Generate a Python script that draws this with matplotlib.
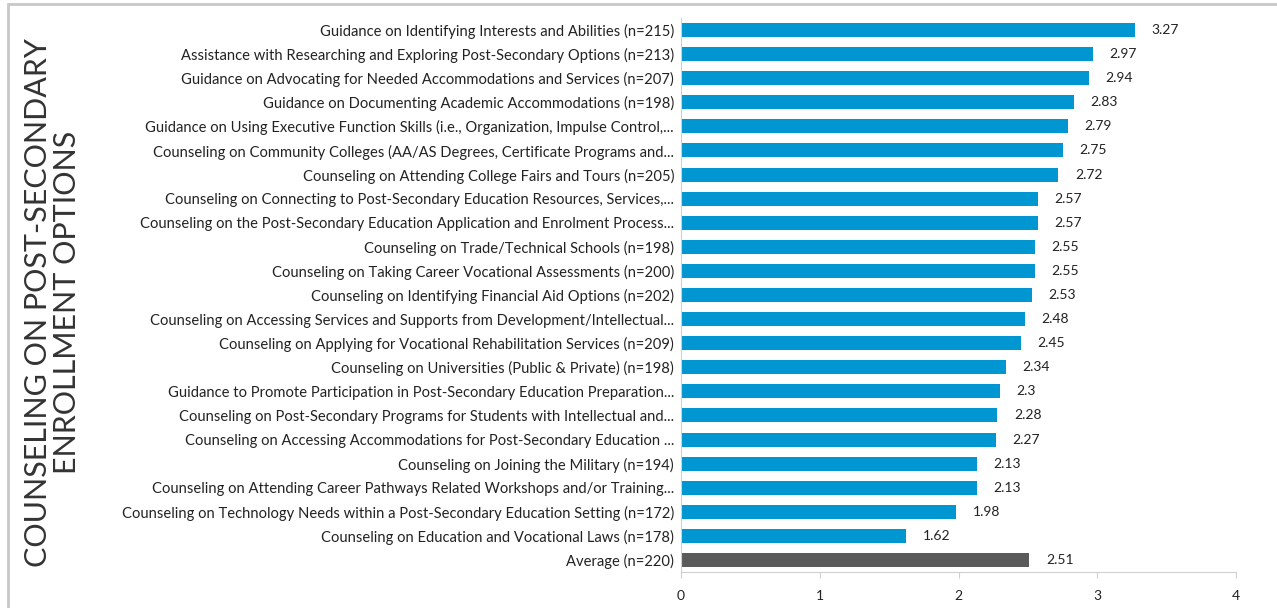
import matplotlib.pyplot as plt
from matplotlib.patches import Rectangle

plt.rcParams['font.family'] = ['Lato', 'DejaVu Sans']

labels = [
    "Guidance on Identifying Interests and Abilities (n=215)",
    "Assistance with Researching and Exploring Post-Secondary Options (n=213)",
    "Guidance on Advocating for Needed Accommodations and Services (n=207)",
    "Guidance on Documenting Academic Accommodations (n=198)",
    "Guidance on Using Executive Function Skills (i.e., Organization, Impulse Control,...",
    "Counseling on Community Colleges (AA/AS Degrees, Certificate Programs and...",
    "Counseling on Attending College Fairs and Tours (n=205)",
    "Counseling on Connecting to Post-Secondary Education Resources, Services,...",
    "Counseling on the Post-Secondary Education Application and Enrolment Process...",
    "Counseling on Trade/Technical Schools (n=198)",
    "Counseling on Taking Career Vocational Assessments (n=200)",
    "Counseling on Identifying Financial Aid Options (n=202)",
    "Counseling on Accessing Services and Supports from Development/Intellectual...",
    "Counseling on Applying for Vocational Rehabilitation Services (n=209)",
    "Counseling on Universities (Public & Private) (n=198)",
    "Guidance to Promote Participation in Post-Secondary Education Preparation...",
    "Counseling on Post-Secondary Programs for Students with Intellectual and...",
    "Counseling on Accessing Accommodations for Post-Secondary Education ...",
    "Counseling on Joining the Military (n=194)",
    "Counseling on Attending Career Pathways Related Workshops and/or Training...",
    "Counseling on Technology Needs within a Post-Secondary Education Setting (n=172)",
    "Counseling on Education and Vocational Laws (n=178)",
    "Average (n=220)",
]
values = [3.27, 2.97, 2.94, 2.83, 2.79, 2.75, 2.72, 2.57, 2.57, 2.55, 2.55, 2.53,
          2.48, 2.45, 2.34, 2.3, 2.28, 2.27, 2.13, 2.13, 1.98, 1.62, 2.51]
value_text = ["3.27", "2.97", "2.94", "2.83", "2.79", "2.75", "2.72", "2.57", "2.57",
              "2.55", "2.55", "2.53", "2.48", "2.45", "2.34", "2.3", "2.28", "2.27",
              "2.13", "2.13", "1.98", "1.62", "2.51"]

blue = '#0096d2'
grey = '#5a5a5a'
colors = [blue] * (len(values) - 1) + [grey]

fig = plt.figure(figsize=(12.77, 6.08), dpi=100)
ax = fig.add_axes([0.5333, 0.0592, 0.4346, 0.9112])

y = list(range(len(values)))
ax.barh(y, values, height=0.58, color=colors)
ax.set_ylim(len(values) - 0.5, -0.5)
ax.set_xlim(0, 4)
ax.set_xticks([0, 1, 2, 3, 4])
ax.set_yticks(y)
ax.set_yticklabels(labels, fontsize=10.6, color='#222222')
ax.tick_params(axis='y', length=0, pad=5)
ax.tick_params(axis='x', length=4, color='#d0d0d0', labelsize=10, pad=9, labelcolor='#222222')

for s in ['top', 'right']:
    ax.spines[s].set_visible(False)
for s in ['left', 'bottom']:
    ax.spines[s].set_color('#d0d0d0')

for yi, v, t in zip(y, values, value_text):
    ax.text(v + 0.12, yi, t, va='center', ha='left', fontsize=10, color='#222222')

fig.text(0.041, 0.503, "COUNSELING ON POST-SECONDARY\nENROLLMENT OPTIONS",
         rotation=90, ha='center', va='center', fontsize=22, fontweight='normal',
         color='#333333', linespacing=1.05)

frame = Rectangle((8 / 1277, -0.1), 1.2, 1 - 4 / 608 + 0.1, transform=fig.transFigure,
                  fill=False, edgecolor='#c8c8c8', linewidth=2)
fig.patches.append(frame)

fig.savefig('out.png', dpi=100)
